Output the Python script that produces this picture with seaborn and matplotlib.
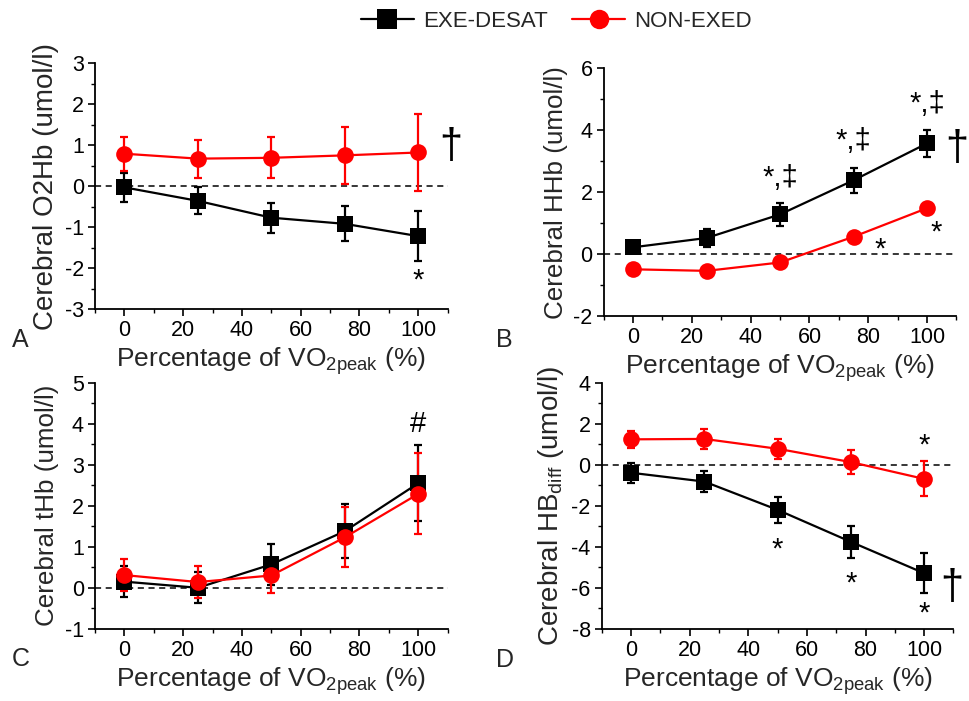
import numpy as np
import pandas as pd
import matplotlib
matplotlib.use("Agg")
import matplotlib.pyplot as plt
import seaborn as sns
from matplotlib.ticker import MultipleLocator
from matplotlib.lines import Line2D

sns.set_theme(style="ticks")
plt.rcParams['font.family'] = ['Liberation Sans', 'DejaVu Sans']
plt.rcParams['mathtext.fontset'] = 'custom'
plt.rcParams['mathtext.rm'] = 'Liberation Sans'
plt.rcParams['mathtext.it'] = 'Liberation Sans'
plt.rcParams['axes.unicode_minus'] = False

x_pct = [0, 25, 50, 75, 100]
groups = ["EXE-DESAT", "NON-EXED"]

# Panel A: O2Hb
o2hb_exe = [-0.03, -0.36, -0.77, -0.92, -1.22]
o2hb_exe_err = [0.35, 0.33, 0.37, 0.43, 0.61]
o2hb_non = [0.79, 0.67, 0.69, 0.75, 0.82]
o2hb_non_err = [0.41, 0.46, 0.50, 0.69, 0.94]

# Panel B: HHb
hhb_exe = [0.22, 0.52, 1.28, 2.38, 3.57]
hhb_exe_err = [0.10, 0.30, 0.36, 0.40, 0.43]
hhb_non = [-0.49, -0.54, -0.27, 0.56, 1.48]
hhb_non_err = [0.08, 0.08, 0.08, 0.08, 0.08]

# Panel C: tHb
thb_exe = [0.15, 0.00, 0.57, 1.38, 2.55]
thb_exe_err = [0.37, 0.38, 0.50, 0.66, 0.92]
thb_non = [0.31, 0.14, 0.30, 1.23, 2.29]
thb_non_err = [0.38, 0.38, 0.43, 0.73, 0.99]

# Panel D: HBdiff
hbd_exe = [-0.39, -0.82, -2.20, -3.76, -5.29]
hbd_exe_err = [0.49, 0.50, 0.62, 0.78, 0.98]
hbd_non = [1.24, 1.26, 0.78, 0.13, -0.69]
hbd_non_err = [0.43, 0.50, 0.49, 0.60, 0.85]

colors = {"EXE-DESAT": "black", "NON-EXED": "#ff0000"}
markers = {"EXE-DESAT": "s", "NON-EXED": "o"}

fig = plt.figure(figsize=(9.69, 7.01), dpi=100)

panels = [
    dict(pos=[0.098, 0.559, 0.364, 0.351], exe=o2hb_exe, exe_err=o2hb_exe_err,
         non=o2hb_non, non_err=o2hb_non_err, ylim=(-3, 3), major=1, minor=0.5,
         ylabel="Cerebral O2Hb (umol/l)", yfs=20, letter="A"),
    dict(pos=[0.623, 0.549, 0.364, 0.354], exe=hhb_exe, exe_err=hhb_exe_err,
         non=hhb_non, non_err=hhb_non_err, ylim=(-2, 6), major=2, minor=1,
         ylabel="Cerebral HHb (umol/l)", yfs=18.7, letter="B"),
    dict(pos=[0.098, 0.103, 0.364, 0.351], exe=thb_exe, exe_err=thb_exe_err,
         non=thb_non, non_err=thb_non_err, ylim=(-1, 5), major=1, minor=0.5,
         ylabel="Cerebral tHb (umol/l)", yfs=18.7, letter="C"),
    dict(pos=[0.621, 0.103, 0.363, 0.351], exe=hbd_exe, exe_err=hbd_exe_err,
         non=hbd_non, non_err=hbd_non_err, ylim=(-8, 4), major=2, minor=1,
         ylabel="Cerebral HB$_{\\mathregular{diff}}$ (umol/l)", yfs=20, letter="D"),
]

axes = []
for p in panels:
    ax = fig.add_axes(p["pos"])
    axes.append(ax)
    df = pd.DataFrame({
        "x": x_pct * 2,
        "y": p["exe"] + p["non"],
        "err": p["exe_err"] + p["non_err"],
        "group": [groups[0]] * 5 + [groups[1]] * 5,
    })
    ax.axhline(0, color="black", ls=(0, (4, 3)), lw=1.1, zorder=1)
    for g in groups:
        sub = df[df.group == g]
        ax.errorbar(sub.x, sub.y, yerr=sub.err, fmt="none", ecolor=colors[g],
                    elinewidth=1.6, capsize=3, capthick=1.6, zorder=2)
    sns.lineplot(data=df, x="x", y="y", hue="group", style="group",
                 palette=colors, markers=markers, dashes=False, ax=ax,
                 markersize=12, markeredgewidth=0, lw=1.6, legend=False,
                 zorder=3)
    ax.set_xlim(-10, 110)
    ax.set_ylim(*p["ylim"])
    ax.xaxis.set_major_locator(MultipleLocator(20))
    ax.xaxis.set_minor_locator(MultipleLocator(10))
    ax.yaxis.set_major_locator(MultipleLocator(p["major"]))
    ax.yaxis.set_minor_locator(MultipleLocator(p["minor"]))
    sns.despine(ax=ax)
    for s in ["left", "bottom"]:
        ax.spines[s].set_linewidth(1.3)
        ax.spines[s].set_color("black")
    ax.tick_params(axis="both", which="major", direction="out", length=5,
                   width=1.2, labelsize=15.5, colors="black", pad=3)
    ax.tick_params(axis="both", which="minor", direction="out", length=3,
                   width=1.0, colors="black")
    ax.set_xlabel("Percentage of VO$_{\\mathregular{2peak}}$ (%)", fontsize=19,
                  labelpad=3)
    ax.set_ylabel(p["ylabel"], fontsize=p["yfs"], labelpad=4)

# Panel letters
fig.text(0.012, 0.505, "A", fontsize=18)
fig.text(0.512, 0.505, "B", fontsize=18)
fig.text(0.012, 0.05, "C", fontsize=18)
fig.text(0.512, 0.048, "D", fontsize=18)

# Significance annotations
axA, axB, axC, axD = axes
ann = dict(ha="center", va="center", color="black", clip_on=False)
axA.text(100, -2.3, "*", fontsize=21, **ann)
axA.text(111, 0.95, "†", fontsize=30, **ann)

axB.text(50, 2.45, "*,‡", fontsize=21, **ann)
axB.text(75, 3.65, "*,‡", fontsize=21, **ann)
axB.text(100, 4.85, "*,‡", fontsize=21, **ann)
axB.text(84, 0.15, "*", fontsize=21, **ann)
axB.text(103, 0.7, "*", fontsize=21, **ann)
axB.text(110.2, 3.4, "†", fontsize=30, **ann)

axC.text(100, 4.0, "#", fontsize=21, **ann)

axD.text(50, -4.15, "*", fontsize=21, **ann)
axD.text(75, -5.8, "*", fontsize=21, **ann)
axD.text(100, -7.25, "*", fontsize=21, **ann)
axD.text(100, 0.95, "*", fontsize=21, **ann)
axD.text(109.5, -6.0, "†", fontsize=30, **ann)

# Legend
handles = [Line2D([0], [0], color=colors[g], marker=markers[g], markersize=14,
                  markeredgewidth=0, lw=1.6) for g in groups]
fig.legend(handles, groups, loc="center", bbox_to_anchor=(0.574, 0.969),
           ncol=2, frameon=False, fontsize=16, handlelength=2.4,
           columnspacing=1.1, handletextpad=0.4)

fig.savefig("out.png", dpi=100)
